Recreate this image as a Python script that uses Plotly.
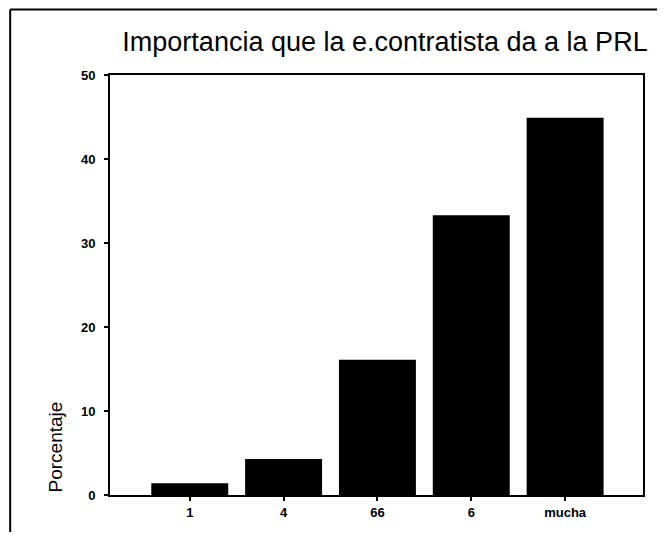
import plotly.graph_objects as go

categories = ["1", "4", "66", "6", "mucha"]
percentages = [1.4, 4.3, 16.1, 33.3, 44.9]
y_ticks = [0, 10, 20, 30, 40, 50]

# page body keeps an 8px margin, so the figure is 16px smaller than the window
OFF = 8
W, H = 665 - 2 * OFF, 540 - 2 * OFF
L, R, T, B = 110 - OFF, 13, 75 - OFF, 34
pw, ph = W - L - R, H - T - B

fig = go.Figure(go.Bar(
    x=categories, y=percentages,
    marker=dict(color="black", line=dict(width=0)),
    width=0.82,
))

font_fam = "Arial, Liberation Sans, sans-serif"
tick_font = dict(size=13, family=font_fam, color="black", weight="bold")

fx0 = (10 - OFF - L) / pw      # left edge of page frame (paper units)
fy1 = 1 + (T - 1) / ph         # top edge of page frame (paper units)

fig.update_layout(
    width=W, height=H, autosize=False,
    margin=dict(l=L, r=R, t=T, b=B),
    paper_bgcolor="white", plot_bgcolor="white",
    showlegend=False,
    font=dict(family=font_fam, color="black"),
    title=dict(text="Importancia que la e.contratista da a la PRL",
               x=(385 - OFF) / W, xanchor="center", y=1 - (42 - OFF) / H, yanchor="middle",
               font=dict(size=27, family=font_fam, color="black")),
    xaxis=dict(type="category", range=[-0.85, 4.83],
               showline=True, mirror=True, linecolor="black", linewidth=2,
               ticks="outside", ticklen=4, tickwidth=2, tickcolor="black",
               showgrid=False, zeroline=False, tickfont=tick_font),
    yaxis=dict(range=[0, 50], tickvals=y_ticks,
               showline=True, mirror=True, linecolor="black", linewidth=2,
               ticks="outside", ticklen=4, tickwidth=2, tickcolor="black",
               ticklabelstandoff=6,
               showgrid=False, zeroline=False, tickfont=tick_font),
    annotations=[dict(text="Porcentaje", textangle=-90,
                      xref="paper", yref="paper",
                      x=(55 - OFF - L) / pw, y=(H - B - (450 - OFF)) / ph,
                      xanchor="center", yanchor="middle", showarrow=False,
                      font=dict(size=19, family=font_fam, color="black"))],
    shapes=[
        dict(type="line", xref="paper", yref="paper",
             x0=fx0, x1=1.1, y0=fy1, y1=fy1,
             line=dict(color="black", width=2), layer="below"),
        dict(type="line", xref="paper", yref="paper",
             x0=fx0, x1=fx0, y0=-0.2, y1=fy1,
             line=dict(color="black", width=2), layer="below"),
    ],
)

fig.write_html("out.html", config={"responsive": False})
